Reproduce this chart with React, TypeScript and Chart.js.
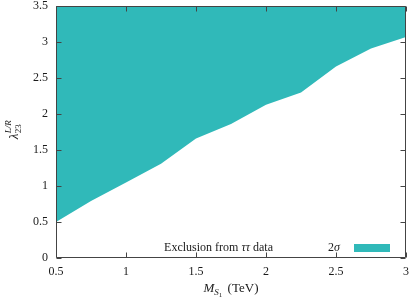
import React, { useEffect, useRef } from "react";
import { Chart, registerables } from "chart.js";

Chart.register(...registerables);

const massValues = [0.5, 0.75, 1, 1.25, 1.5, 1.75, 2, 2.25, 2.5, 2.75, 3];
const lambdaLimit = [0.5, 0.79, 1.05, 1.31, 1.66, 1.86, 2.13, 2.3, 2.66, 2.91, 3.07];
const xTickValues = [0.5, 1, 1.5, 2, 2.5, 3];
const yTickValues = [0, 0.5, 1, 1.5, 2, 2.5, 3, 3.5];
const legendTitle = "Exclusion from ";
const legendTitleTail = " data";
const legendLabel = "2\u03c3";

const TEAL = "#30b9b9";
const SERIF = "'Liberation Serif', 'DejaVu Serif', serif";
const INK = "#1a1a1a";

const framePlugin = {
  id: "frame",
  afterDraw(chart: any) {
    const ctx = chart.ctx as CanvasRenderingContext2D;
    const { left, right, top, bottom } = chart.chartArea;
    const xs = chart.scales.x;
    const ys = chart.scales.y;
    ctx.save();
    ctx.strokeStyle = "#444";
    ctx.lineWidth = 1;
    const L = Math.round(left) + 0.5;
    const R = Math.round(right) - 0.5;
    const T = Math.round(top) + 0.5;
    const B = Math.round(bottom) - 0.5;
    ctx.beginPath();
    ctx.rect(L, T, R - L, B - T);
    ctx.stroke();
    const tl = 5;
    ctx.beginPath();
    xTickValues.forEach((v) => {
      const px = Math.round(xs.getPixelForValue(v)) + 0.5;
      ctx.moveTo(px, B);
      ctx.lineTo(px, B - tl);
      ctx.moveTo(px, T);
      ctx.lineTo(px, T + tl);
    });
    yTickValues.forEach((v) => {
      const py = Math.round(ys.getPixelForValue(v)) + 0.5;
      ctx.moveTo(L, py);
      ctx.lineTo(L + tl, py);
      ctx.moveTo(R, py);
      ctx.lineTo(R - tl, py);
    });
    ctx.stroke();

    // legend
    ctx.fillStyle = INK;
    ctx.textBaseline = "alphabetic";
    const base = bottom - 7;
    const f = `12px ${SERIF}`;
    const fi = `italic 12px ${SERIF}`;
    ctx.font = f;
    const tailW = ctx.measureText(legendTitleTail).width;
    ctx.font = fi;
    const tauW = ctx.measureText("\u03c4\u03c4").width;
    ctx.font = f;
    const headW = ctx.measureText(legendTitle).width;
    const xr = right - 133;
    const x0 = xr - tailW - tauW - headW;
    ctx.textAlign = "left";
    ctx.fillText(legendTitle, x0, base);
    ctx.font = fi;
    ctx.fillText("\u03c4\u03c4", x0 + headW, base);
    ctx.font = f;
    ctx.fillText(legendTitleTail, x0 + headW + tauW, base);

    const lab2 = legendLabel.slice(0, 1);
    const labSig = legendLabel.slice(1);
    ctx.font = f;
    const w2 = ctx.measureText(lab2).width;
    ctx.font = fi;
    const ws = ctx.measureText(labSig).width;
    const x2 = right - 66 - w2 - ws;
    ctx.font = f;
    ctx.fillText(lab2, x2, base);
    ctx.font = fi;
    ctx.fillText(labSig, x2 + w2, base);

    ctx.fillStyle = TEAL;
    ctx.fillRect(right - 52, bottom - 14, 36, 8);

    // x title
    ctx.fillStyle = INK;
    const xb = 292;
    ctx.font = `italic 13px ${SERIF}`;
    const mW = ctx.measureText("M").width;
    ctx.font = `italic 9px ${SERIF}`;
    const sW = ctx.measureText("S").width;
    ctx.font = `7px ${SERIF}`;
    const oneW = ctx.measureText("1").width;
    ctx.font = `13px ${SERIF}`;
    const tevW = ctx.measureText(" (TeV)").width;
    const total = mW + sW + oneW + 2 + tevW;
    let cx = (left + right) / 2 - total / 2;
    ctx.font = `italic 13px ${SERIF}`;
    ctx.fillText("M", cx, xb);
    cx += mW;
    ctx.font = `italic 9px ${SERIF}`;
    ctx.fillText("S", cx, xb + 3);
    cx += sW;
    ctx.font = `7px ${SERIF}`;
    ctx.fillText("1", cx, xb + 5);
    cx += oneW + 2;
    ctx.font = `13px ${SERIF}`;
    ctx.fillText(" (TeV)", cx, xb);

    // y title (rotated)
    ctx.save();
    ctx.translate(18, 130);
    ctx.rotate(-Math.PI / 2);
    ctx.font = `italic 13px ${SERIF}`;
    const lW = ctx.measureText("\u03bb").width;
    ctx.font = `9px ${SERIF}`;
    const subW = ctx.measureText("23").width;
    ctx.font = `italic 9px ${SERIF}`;
    const supW = ctx.measureText("L/R").width;
    const tw = lW + Math.max(subW, supW);
    let yx = -tw / 2;
    ctx.font = `italic 13px ${SERIF}`;
    ctx.fillText("\u03bb", yx, 0);
    yx += lW + 0.5;
    ctx.font = `9px ${SERIF}`;
    ctx.fillText("23", yx, 3);
    ctx.font = `italic 9px ${SERIF}`;
    ctx.fillText("L/R", yx, -7);
    ctx.restore();

    ctx.restore();
  },
};

export default function App() {
  const ref = useRef<HTMLCanvasElement | null>(null);
  useEffect(() => {
    document.body.style.margin = "0";
    const canvas = ref.current;
    if (!canvas) return;
    const chart = new Chart(canvas, {
      type: "line",
      data: {
        datasets: [
          {
            label: legendLabel,
            data: massValues.map((m, i) => ({ x: m, y: lambdaLimit[i] })),
            fill: "end",
            backgroundColor: TEAL,
            borderWidth: 0,
            borderColor: TEAL,
            pointRadius: 0,
            tension: 0,
          },
        ],
      },
      options: {
        animation: false,
        responsive: false,
        devicePixelRatio: 1,
        layout: { padding: { left: 0, right: 3, top: 6, bottom: 0 } },
        plugins: { legend: { display: false }, tooltip: { enabled: false } },
        scales: {
          x: {
            type: "linear",
            min: 0.5,
            max: 3,
            afterBuildTicks: (s: any) => {
              s.ticks = xTickValues.map((v) => ({ value: v }));
            },
            ticks: {
              color: INK,
              font: { family: SERIF, size: 12 },
              padding: 7,
              maxRotation: 0,
              autoSkip: false,
              callback: (v: any) => String(v),
            },
            grid: { display: true, drawOnChartArea: false, drawTicks: false, color: "rgba(0,0,0,0)" },
            border: { display: false },
            afterFit: (s: any) => {
              s.height = 42;
              s.paddingLeft = 0;
              s.paddingRight = 0;
            },
          },
          y: {
            type: "linear",
            min: 0,
            max: 3.5,
            afterBuildTicks: (s: any) => {
              s.ticks = yTickValues.map((v) => ({ value: v }));
            },
            ticks: {
              color: INK,
              font: { family: SERIF, size: 12 },
              padding: 8,
              autoSkip: false,
              callback: (v: any) => String(v),
            },
            grid: { display: true, drawOnChartArea: false, drawTicks: false, color: "rgba(0,0,0,0)" },
            border: { display: false },
            afterFit: (s: any) => {
              s.width = 56;
              s.paddingTop = 0;
              s.paddingBottom = 0;
            },
          },
        },
      },
      plugins: [framePlugin],
    });
    return () => chart.destroy();
  }, []);
  return (
    <div style={{ width: 409, height: 300, background: "#fff" }}>
      <canvas ref={ref} width={409} height={300} style={{ display: "block" }} />
    </div>
  );
}
